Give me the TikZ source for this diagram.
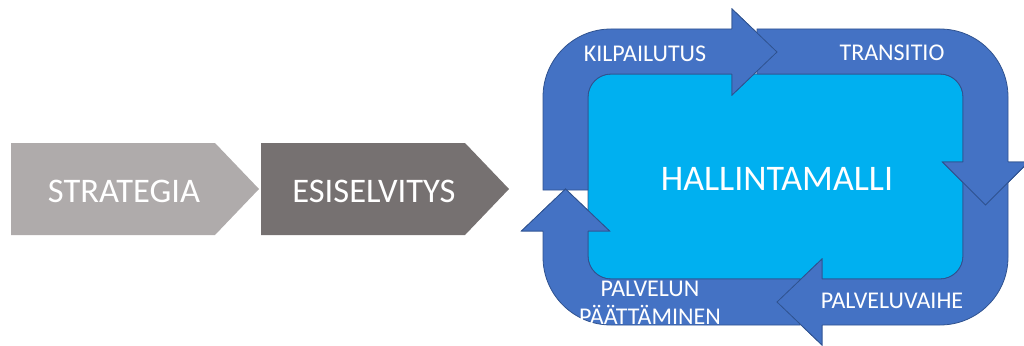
\documentclass[tikz,border=0pt]{standalone}
\usepackage{fontspec}
\setmainfont{Carlito}
\definecolor{bandblue}{HTML}{4472C4}
\definecolor{bandline}{HTML}{2F528F}
\definecolor{corefill}{HTML}{00B0F0}
\definecolor{graylight}{HTML}{AFABAB}
\definecolor{graydark}{HTML}{767171}
\tikzset{
  band/.style={fill=bandblue, draw=bandline, line width=0.8pt, line join=miter},
  headfill/.style={fill=bandblue},
  headline/.style={draw=bandline, line width=0.8pt, line join=miter},
  chev/.style={draw=none},
  lbl/.style={text=white, inner sep=0pt, anchor=base},
}
\begin{document}
\begin{tikzpicture}[x=1pt, y=-1pt]
\useasboundingbox (0,0) rectangle (1024,345);

% phase chevrons on the left
\path[chev, fill=graylight] (11,143) -- (215,143) -- (259,189) -- (215,235) -- (11,235) -- cycle;
\path[chev, fill=graydark]  (261,143) -- (465,143) -- (509,189) -- (465,235) -- (261,235) -- cycle;
\node[lbl, font=\fontsize{34.5}{41}\selectfont] (strategia) at (124,202) {STRATEGIA};
\node[lbl, font=\fontsize{34.5}{41}\selectfont] (esiselvitys) at (374,202) {ESISELVITYS};

% central governance model
\path[fill=corefill, draw=bandline, line width=0.8pt, rounded corners=23pt] (588,74) rectangle (963,279);

% four bent arrows forming the cycle
\path[band] (543,190) -- (543,97) arc[start angle=180,end angle=270,radius=68] -- (732,29) -- (732,9) -- (777,52) -- (732,95) -- (732,74) -- (611,74) arc[start angle=270,end angle=180,radius=23] -- (588,190) -- cycle;
\path[band] (757,29) -- (940,29) arc[start angle=270,end angle=360,radius=68] -- (1008,162) -- (1028.5,162) -- (985.5,205) -- (942.5,162) -- (963,162) -- (963,97) arc[start angle=0,end angle=-90,radius=23] -- (757,74) -- cycle;
\path[band] (1008,180) -- (1008,257) arc[start angle=0,end angle=90,radius=68] -- (822,325) -- (822,345) -- (777,302) -- (822,259) -- (822,279) -- (940,279) arc[start angle=90,end angle=0,radius=23] -- (963,180) -- cycle;
\path[band] (800,325) -- (611,325) arc[start angle=90,end angle=180,radius=68] -- (543,231) -- (521.5,231) -- (565.5,189) -- (609.5,231) -- (588,231) -- (588,256) arc[start angle=180,end angle=90,radius=23] -- (800,279) -- cycle;

% arrow heads laid over the tail of the following arrow
\path[headfill] (732,9) -- (777,52) -- (732,95) -- cycle;
\path[headline] (732,29) -- (732,9) -- (777,52) -- (732,95) -- (732,74);
\path[headfill] (1028.5,162) -- (985.5,205) -- (942.5,162) -- cycle;
\path[headline] (1008,162) -- (1028.5,162) -- (985.5,205) -- (942.5,162) -- (963,162);
\path[headfill] (822,345) -- (777,302) -- (822,259) -- cycle;
\path[headline] (822,325) -- (822,345) -- (777,302) -- (822,259) -- (822,279);
\path[headfill] (521.5,231) -- (565.5,189) -- (609.5,231) -- cycle;
\path[headline] (543,231) -- (521.5,231) -- (565.5,189) -- (609.5,231) -- (588,231);

% labels
\node[lbl, font=\fontsize{36}{43}\selectfont] (hallinta) at (777,190) {HALLINTAMALLI};
\node[lbl, font=\fontsize{24}{28}\selectfont] (kilpailutus) at (645,61) {KILPAILUTUS};
\node[lbl, font=\fontsize{24}{28}\selectfont] (transitio) at (892,60) {TRANSITIO};
\node[lbl, font=\fontsize{24}{28}\selectfont] (palveluvaihe) at (892,308) {PALVELUVAIHE};
\node[lbl, font=\fontsize{24}{28}\selectfont] (paattaminen1) at (650,296) {PALVELUN};
\node[lbl, font=\fontsize{24}{28}\selectfont] (paattaminen2) at (650,324) {PÄÄTTÄMINEN};
\end{tikzpicture}
\end{document}
